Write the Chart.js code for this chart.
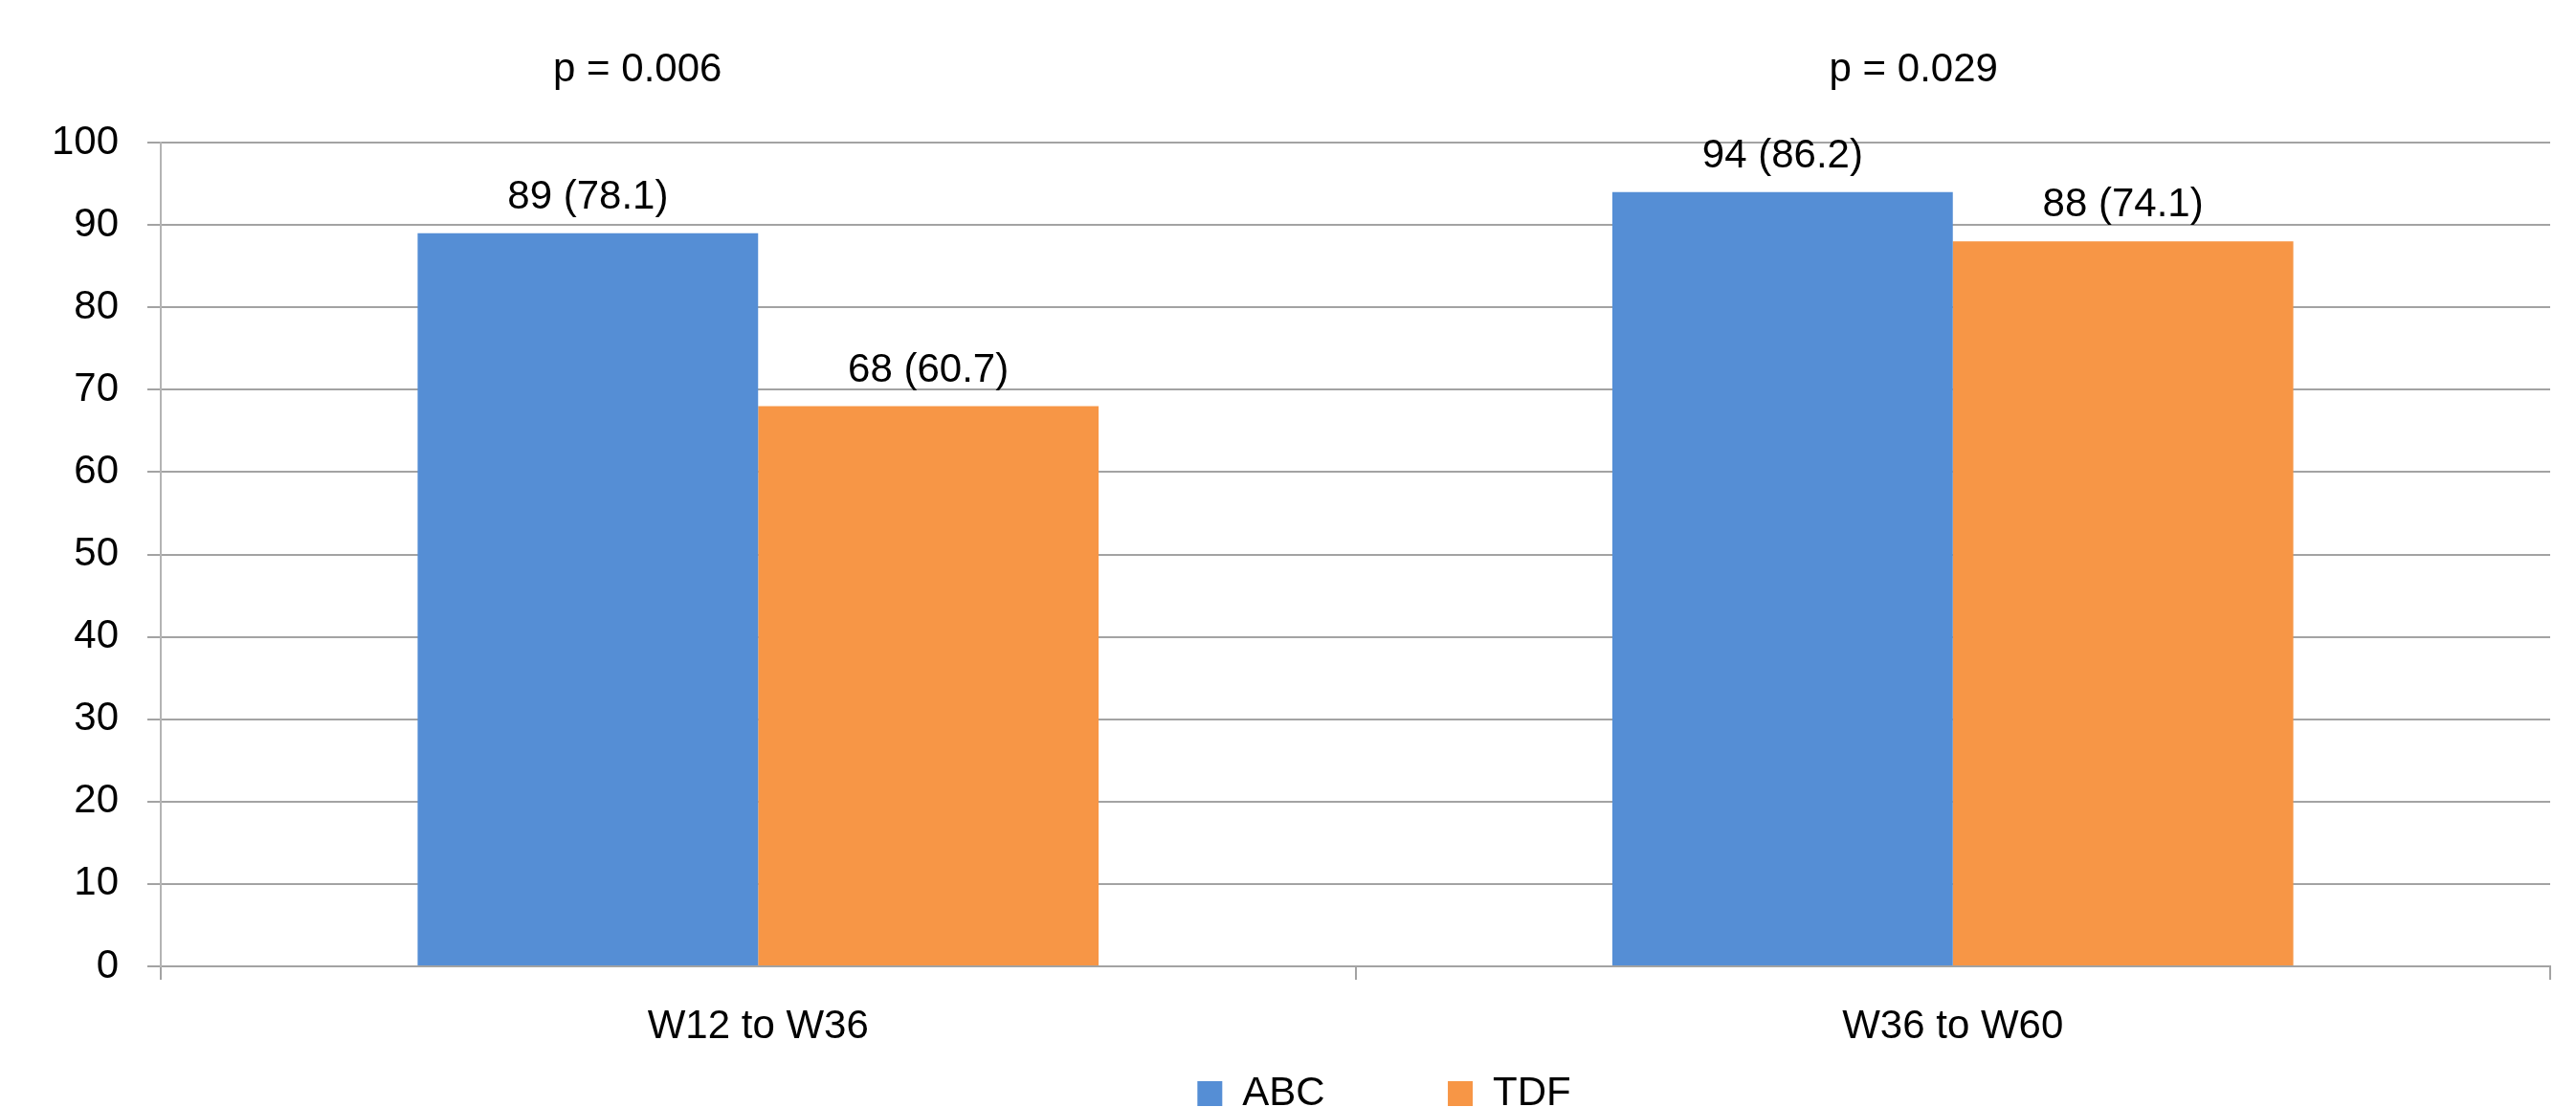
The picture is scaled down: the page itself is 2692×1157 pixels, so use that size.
<!DOCTYPE html>
<html>
<head>
<meta charset="utf-8">
<script src="https://cdn.jsdelivr.net/npm/chart.js@4"></script>
<style>
  html, body { margin: 0; padding: 0; background: #fff; }
  #wrap { width: 2692px; height: 1157px; position: relative; }
</style>
</head>
<body>
<div id="wrap"><canvas id="chart"></canvas></div>
<script>
var categories = ["W12 to W36", "W36 to W60"];
var abcValues = [89, 94];
var abcPercent = [78.1, 86.2];
var tdfValues = [68, 88];
var tdfPercent = [60.7, 74.1];
var pValues = ["p = 0.006", "p = 0.029"];
var yMin = 0, yMax = 100, yStep = 10;

var FONT = '"Liberation Sans", Arial, sans-serif';
var FSIZE = 42;
var GRID = '#a3a3a3';

// value labels above the bars + p-values above each group
var barLabels = {
    id: 'barLabels',
    afterLayout: function (chart) {
        // legend sits a bit right of the plot centre in the original
        chart.legend.left += 30;
        chart.legend.right += 30;
    },
    afterDatasetsDraw: function (chart) {
        var ctx = chart.ctx;
        ctx.save();
        ctx.font = FSIZE + 'px ' + FONT;
        ctx.fillStyle = '#000';
        ctx.textAlign = 'center';
        ctx.textBaseline = 'alphabetic';
        chart.data.datasets.forEach(function (ds, i) {
            chart.getDatasetMeta(i).data.forEach(function (bar, j) {
                ctx.fillText(ds.data[j] + ' (' + ds.percent[j].toFixed(1) + ')', bar.x, bar.y - 26);
            });
        });
        var x = chart.scales.x;
        var shift = [-126, -41];
        pValues.forEach(function (t, j) {
            ctx.fillText(t, x.getPixelForValue(j) + shift[j], 85);
        });
        ctx.restore();
    }
};

var ctx = document.getElementById("chart").getContext("2d");
new Chart(ctx, {
    type: "bar",
    data: {
        labels: categories,
        datasets: [
            {
                label: "ABC",
                data: abcValues,
                percent: abcPercent,
                backgroundColor: "#558ed5",
                borderWidth: 0,
                categoryPercentage: 0.57,
                barPercentage: 1
            },
            {
                label: "TDF",
                data: tdfValues,
                percent: tdfPercent,
                backgroundColor: "#f79646",
                borderWidth: 0,
                categoryPercentage: 0.57,
                barPercentage: 1
            }
        ]
    },
    options: {
        responsive: true,
        maintainAspectRatio: false,
        devicePixelRatio: 1,
        animation: false,
        layout: { padding: { top: 149, right: 27, bottom: -17, left: 0 } },
        plugins: {
            tooltip: { enabled: false },
            legend: {
                position: "bottom",
                fullSize: false,
                labels: {
                    boxWidth: 26,
                    boxHeight: 26,
                    padding: 0,
                    color: "#000",
                    font: { family: FONT, size: FSIZE },
                    generateLabels: function (chart) {
                        var items = Chart.defaults.plugins.legend.labels.generateLabels(chart);
                        items[0].text = items[0].text + '\u00a0'.repeat(11);
                        return items;
                    }
                }
            }
        },
        scales: {
            x: {
                grid: { drawOnChartArea: false, drawTicks: true, tickLength: 14, color: GRID, lineWidth: 2, offset: true },
                border: { color: GRID, width: 2 },
                ticks: { color: "#000", font: { family: FONT, size: FSIZE }, padding: 24 },
                afterFit: function (s) { s.height = 112; }
            },
            y: {
                min: yMin,
                max: yMax,
                ticks: { stepSize: yStep, color: "#000", font: { family: FONT, size: FSIZE }, padding: 30 },
                grid: { color: GRID, lineWidth: 2, tickLength: 14 },
                border: { color: '#b4b4b4', width: 2 },
                afterFit: function (s) { s.width = 168; }
            }
        }
    },
    plugins: [barLabels]
});
</script>
</body>
</html>
